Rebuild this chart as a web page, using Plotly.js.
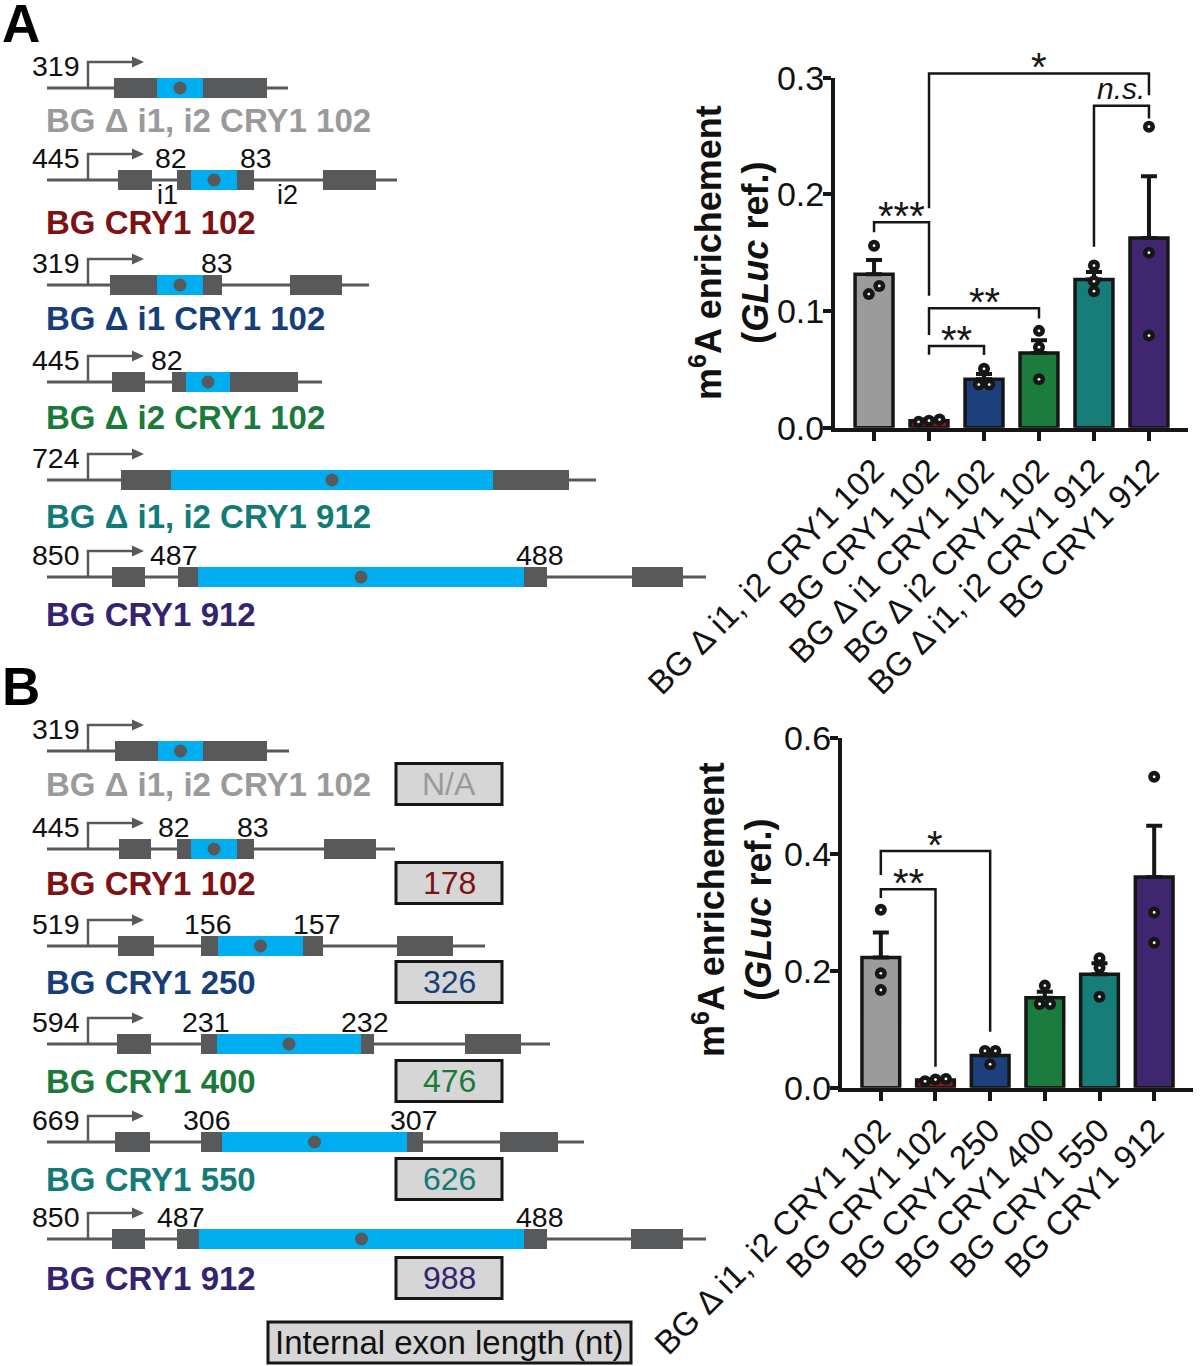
<!DOCTYPE html>
<html>
<head>
<meta charset="utf-8">
<script src="https://cdn.plot.ly/plotly-3.0.1.min.js"></script>
<style>html,body{margin:0;padding:0;background:#fff}#chart{width:1200px;height:1366px}</style>
</head>
<body>
<div id="chart"></div>
<script>
// ================= DATA =================
// Panel A bar chart
const categoriesA = ['BG Δ i1, i2 CRY1 102', 'BG CRY1 102', 'BG Δ i1 CRY1 102', 'BG Δ i2 CRY1 102', 'BG Δ i1, i2 CRY1 912', 'BG CRY1 912'];
const meanA = [0.1315, 0.006, 0.0415, 0.064, 0.127, 0.1625];
const semA = [0.0122, 0.001, 0.0045, 0.011, 0.0065, 0.053];
const pointsA = [
  [0.156, 0.1215, 0.1145],
  [0.007, 0.005, 0.006],
  [0.0505, 0.037, 0.037],
  [0.083, 0.069, 0.0415],
  [0.139, 0.1255, 0.117],
  [0.258, 0.150, 0.079]
];
const yTickValsA = [0, 0.1, 0.2, 0.3];
const yTickTextA = ['0.0', '0.1', '0.2', '0.3'];
// significance brackets: [from, to, top, leftBottom, rightBottom, label]
const bracketsA = [
  [0, 1, 0.176, 0.1675, 0.113, '***'],
  [1, 5, 0.3037, 0.188, 0.285, '*'],
  [4, 5, 0.276, 0.155, 0.265, '<i>n.s.</i>'],
  [1, 3, 0.1023, 0.0795, 0.0937, '**'],
  [1, 2, 0.070, 0.0625, 0.0623, '**']
];

// Panel B bar chart
const categoriesB = ['BG Δ i1, i2 CRY1 102', 'BG CRY1 102', 'BG CRY1 250', 'BG CRY1 400', 'BG CRY1 550', 'BG CRY1 912'];
const meanB = [0.223, 0.013, 0.0553, 0.154, 0.1945, 0.361];
const semB = [0.043, 0.0017, 0.0077, 0.0105, 0.019, 0.088];
const pointsB = [
  [0.305, 0.196, 0.1675],
  [0.015, 0.011, 0.014],
  [0.063, 0.063, 0.040],
  [0.175, 0.1435, 0.1435],
  [0.222, 0.2055, 0.156],
  [0.533, 0.3005, 0.2485]
];
const yTickValsB = [0, 0.2, 0.4, 0.6];
const yTickTextB = ['0.0', '0.2', '0.4', '0.6'];
const bracketsB = [
  [0, 2, 0.4057, 0.3646, 0.096, '*'],
  [0, 1, 0.340, 0.325, 0.036, '**']
];

const yTitle = '<b>m<sup>6</sup>A enrichement<br>(<i>GLuc</i> ref.)</b>';

// Schematic constructs (schematic units): promoter number, backbone end, exons [start, end, kind], junction marks, intron marks
const schemNamesA = ['BG Δ i1, i2 CRY1 102', 'BG CRY1 102', 'BG Δ i1 CRY1 102', 'BG Δ i2 CRY1 102', 'BG Δ i1, i2 CRY1 912', 'BG CRY1 912'];
const schemA = [
  {num: '319', end: 288, exons: [[114, 157, 'g'], [157, 203, 'b'], [203, 267, 'g']], marks: [], introns: []},
  {num: '445', end: 397, exons: [[118, 152, 'g'], [177, 191, 'g'], [191, 237, 'b'], [237, 254, 'g'], [323, 376, 'g']], marks: [[171, '82'], [256, '83']], introns: [[167, 'i1'], [287, 'i2']]},
  {num: '319', end: 369, exons: [[110, 157, 'g'], [157, 203, 'b'], [203, 222, 'g'], [290, 342, 'g']], marks: [[217, '83']], introns: []},
  {num: '445', end: 322, exons: [[112, 145, 'g'], [172, 186, 'g'], [186, 230, 'b'], [230, 298, 'g']], marks: [[167, '82']], introns: []},
  {num: '724', end: 596, exons: [[121, 171, 'g'], [171, 493, 'b'], [493, 569, 'g']], marks: [], introns: []},
  {num: '850', end: 706, exons: [[112, 145, 'g'], [178, 198, 'g'], [198, 524, 'b'], [524, 547, 'g'], [632, 683, 'g']], marks: [[174, '487'], [540, '488']], introns: []}
];
const schemNamesB = ['BG Δ i1, i2 CRY1 102', 'BG CRY1 102', 'BG CRY1 250', 'BG CRY1 400', 'BG CRY1 550', 'BG CRY1 912'];
const schemB = [
  {num: '319', end: 289, exons: [[115, 158, 'g'], [158, 203, 'b'], [203, 267, 'g']], marks: [], introns: []},
  {num: '445', end: 395, exons: [[119, 151, 'g'], [177, 191, 'g'], [191, 237, 'b'], [237, 254, 'g'], [324, 376, 'g']], marks: [[174, '82'], [253, '83']], introns: []},
  {num: '519', end: 485, exons: [[118, 154, 'g'], [201, 218, 'g'], [218, 303, 'b'], [303, 323, 'g'], [397, 453, 'g']], marks: [[208, '156'], [317, '157']], introns: []},
  {num: '594', end: 550, exons: [[117, 151, 'g'], [201, 217, 'g'], [217, 361, 'b'], [361, 374, 'g'], [465, 521, 'g']], marks: [[206, '231'], [365, '232']], introns: []},
  {num: '669', end: 584, exons: [[115, 150, 'g'], [201, 222, 'g'], [222, 407, 'b'], [407, 423, 'g'], [500, 558, 'g']], marks: [[207, '306'], [414, '307']], introns: []},
  {num: '850', end: 706, exons: [[112, 145, 'g'], [177, 199, 'g'], [199, 524, 'b'], [524, 547, 'g'], [631, 683, 'g']], marks: [[181, '487'], [540, '488']], introns: []}
];
const exonLengthLabels = ['N/A', '178', '326', '476', '626', '988'];
const exonLengthTitle = 'Internal exon length (nt)';

// ================= STYLE / LAYOUT CONSTANTS =================
const FONT = 'Liberation Sans, Arial, Helvetica, sans-serif';
const INK = '#161616';
const barColors = ['#9b9b9b', '#8c1717', '#1c407c', '#1b7c3d', '#167d79', '#3f276f'];
const labelColors = ['#9a9a9a', '#7c1214', '#163f78', '#1a7a3a', '#137b77', '#35236f'];
const SCH_GRAY = '#58595b';
const SCH_BLUE = '#00aeef';
const W = 1200, H = 1366;

// schematic row placement (figure px, drawn on hidden axes x4/y4)
const rowYA = [88, 180, 285, 382, 480, 577];
const labelYA = [120, 222, 318, 417, 516, 614];
const rowYB = [751, 849, 946, 1044, 1142, 1239];
const labelYB = [784, 883, 982, 1081, 1179, 1278];

// bar chart placement
const A_x0 = 835, A_x1 = 1188, A_y0 = 427.7, A_yTop = 77.7;      // y=0 and y=0.3
const B_x0 = 842, B_x1 = 1193, B_y0 = 1087.7, B_yTop = 737.7;    // y=0 and y=0.6
const A_pxPerY = (A_y0 - A_yTop) / 0.3;
const B_pxPerY = (B_y0 - B_yTop) / 0.6;
const A_range3Top = 0.345;

// ================= HELPERS =================
function beeswarm(vals, pxPerY, pxPerX, thr, sep) {
  const idx = vals.map((v, i) => i).sort((a, b) => vals[a] - vals[b]);
  const groups = [];
  let cur = [idx[0]];
  for (let k = 1; k < idx.length; k++) {
    if ((vals[idx[k]] - vals[cur[cur.length - 1]]) * pxPerY < thr) cur.push(idx[k]);
    else { groups.push(cur); cur = [idx[k]]; }
  }
  groups.push(cur);
  const off = new Array(vals.length).fill(0);
  groups.forEach(g => g.forEach((j, n) => { off[j] = (n - (g.length - 1) / 2) * sep / pxPerX; }));
  return off;
}

const traces = [];
const shapes = [];
const annotations = [];

function barPanel(cats, means, sems, pts, xa, ya, bya, brackets, pxPerY) {
  const xs = cats.map((c, i) => i);
  traces.push({
    type: 'bar', x: xs, y: means, xaxis: xa, yaxis: ya, width: 0.69,
    marker: {color: barColors, line: {color: INK, width: 3.5}},
    error_y: {type: 'data', array: sems, arrayminus: sems.map(() => 0), symmetric: false,
              color: INK, thickness: 4, width: 8},
    hoverinfo: 'skip', showlegend: false
  });
  const px = [], py = [];
  pts.forEach((g, i) => {
    const off = beeswarm(g, pxPerY, 55, 9, 10.5);
    g.forEach((v, j) => { px.push(i + off[j]); py.push(v); });
  });
  traces.push({type: 'scatter', mode: 'markers', x: px, y: py, xaxis: xa, yaxis: ya, cliponaxis: false,
    marker: {color: INK, size: 12, line: {width: 0}}, hoverinfo: 'skip', showlegend: false});
  traces.push({type: 'scatter', mode: 'markers', x: px, y: py, xaxis: xa, yaxis: ya, cliponaxis: false,
    marker: {color: '#ffffff', size: 2.8, line: {width: 0}}, hoverinfo: 'skip', showlegend: false});
  brackets.forEach(b => {
    traces.push({type: 'scatter', mode: 'lines', x: [b[0], b[0], b[1], b[1]], y: [b[3], b[2], b[2], b[4]],
      xaxis: xa, yaxis: bya, line: {color: INK, width: 2.5}, hoverinfo: 'skip', showlegend: false});
    const isStar = b[5].indexOf('*') >= 0;
    annotations.push({xref: xa, yref: bya, x: (b[0] + b[1]) / 2, y: b[2], text: b[5], showarrow: false,
      xanchor: 'center', yanchor: 'bottom', yshift: isStar ? -18 : -1,
      font: {family: FONT, size: isStar ? 40 : 30, color: INK}});
  });
}

barPanel(categoriesA, meanA, semA, pointsA, 'x', 'y', 'y3', bracketsA, A_pxPerY);
barPanel(categoriesB, meanB, semB, pointsB, 'x2', 'y2', 'y2', bracketsB, B_pxPerY);

// dummy trace for the schematic axes
traces.push({type: 'scatter', mode: 'markers', x: [0], y: [0], xaxis: 'x4', yaxis: 'y4',
  marker: {opacity: 0}, hoverinfo: 'skip', showlegend: false});

function schematic(rows, names, rowY, labelY) {
  rows.forEach((r, i) => {
    const y = rowY[i];
    const S = {xref: 'x4', yref: 'y4', layer: 'above'};
    shapes.push(Object.assign({type: 'line', x0: 47, x1: r.end, y0: y, y1: y, line: {color: SCH_GRAY, width: 3}}, S));
    shapes.push(Object.assign({type: 'path', path: `M 88,${y} L 88,${y - 26} L 134,${y - 26}`, line: {color: SCH_GRAY, width: 2.5}}, S));
    shapes.push(Object.assign({type: 'path', path: `M 132,${y - 31.5} L 144,${y - 26} L 132,${y - 20.5} Z`, fillcolor: SCH_GRAY, line: {width: 0}}, S));
    r.exons.forEach(e => {
      shapes.push(Object.assign({type: 'rect', x0: e[0], x1: e[1], y0: y - 10, y1: y + 10,
        fillcolor: e[2] === 'b' ? SCH_BLUE : SCH_GRAY, line: {width: 0}}, S));
    });
    const be = r.exons.find(e => e[2] === 'b');
    const cx = (be[0] + be[1]) / 2;
    shapes.push(Object.assign({type: 'circle', x0: cx - 6.5, x1: cx + 6.5, y0: y - 6.5, y1: y + 6.5,
      fillcolor: SCH_GRAY, line: {width: 0}}, S));
    annotations.push({xref: 'x4', yref: 'y4', x: 82, y: y - 22, text: r.num, showarrow: false,
      xanchor: 'right', yanchor: 'middle', font: {family: FONT, size: 28.5, color: '#111'}});
    r.marks.forEach(m => annotations.push({xref: 'x4', yref: 'y4', x: m[0], y: y - 22, text: m[1], showarrow: false,
      xanchor: 'center', yanchor: 'middle', font: {family: FONT, size: 28.5, color: '#111'}}));
    r.introns.forEach(m => annotations.push({xref: 'x4', yref: 'y4', x: m[0], y: y + 15, text: m[1], showarrow: false,
      xanchor: 'center', yanchor: 'middle', font: {family: FONT, size: 27, color: '#111'}}));
    annotations.push({xref: 'x4', yref: 'y4', x: 44, y: labelY[i], text: '<b>' + names[i] + '</b>', showarrow: false,
      xanchor: 'left', yanchor: 'middle', font: {family: FONT, size: 33, color: labelColors[i]}});
  });
}
schematic(schemA, schemNamesA, rowYA, labelYA);
schematic(schemB, schemNamesB, rowYB, labelYB);

// exon length boxes (panel B)
exonLengthLabels.forEach((t, i) => {
  const y = labelYB[i];
  shapes.push({type: 'rect', xref: 'x4', yref: 'y4', layer: 'above', x0: 396, x1: 502, y0: y - 20.5, y1: y + 20.5,
    fillcolor: '#d6d6d6', line: {color: INK, width: 3}});
  annotations.push({xref: 'x4', yref: 'y4', x: 449, y: y, text: t, showarrow: false, xanchor: 'center', yanchor: 'middle',
    font: {family: FONT, size: 32, color: labelColors[i]}});
});
shapes.push({type: 'rect', xref: 'x4', yref: 'y4', layer: 'above', x0: 268, x1: 631, y0: 1322, y1: 1363,
  fillcolor: '#d6d6d6', line: {color: INK, width: 3}});
annotations.push({xref: 'x4', yref: 'y4', x: 449.5, y: 1342.5, text: exonLengthTitle, showarrow: false,
  xanchor: 'center', yanchor: 'middle', font: {family: FONT, size: 33, color: '#111'}});

// panel letters
annotations.push({xref: 'paper', yref: 'paper', x: 0, y: 1 - 23 / H, text: '<b>A</b>', showarrow: false,
  xanchor: 'left', yanchor: 'middle', font: {family: FONT, size: 53, color: '#000'}});
annotations.push({xref: 'paper', yref: 'paper', x: 0, y: 1 - 687 / H, text: '<b>B</b>', showarrow: false,
  xanchor: 'left', yanchor: 'middle', font: {family: FONT, size: 53, color: '#000'}});

// y axis titles
annotations.push({xref: 'paper', yref: 'paper', x: 729 / W, y: 1 - 253 / H, text: yTitle, textangle: -90, showarrow: false,
  xanchor: 'center', yanchor: 'middle', font: {family: FONT, size: 36, color: '#111'}});
annotations.push({xref: 'paper', yref: 'paper', x: 732 / W, y: 1 - 910 / H, text: yTitle, textangle: -90, showarrow: false,
  xanchor: 'center', yanchor: 'middle', font: {family: FONT, size: 36, color: '#111'}});

// ================= AXES =================
function xAxis(x0, x1, cats, anchor) {
  const lo = -0.71, hi = cats.length - 1 + 0.71;
  return {domain: [x0 / W, x1 / W], range: [lo, hi], anchor: anchor,
    tickvals: cats.map((c, i) => i), ticktext: cats, tickangle: -45,
    tickfont: {family: FONT, size: 33, color: '#111'}, ticklabelstandoff: -3,
    showline: true, linecolor: INK, linewidth: 4, ticks: 'outside', ticklen: 9, tickwidth: 4, tickcolor: INK,
    showgrid: false, zeroline: false, fixedrange: true};
}
function yAxis(y0, yTop, rng, vals, txt, anchor) {
  return {domain: [1 - y0 / H, 1 - yTop / H], range: rng, anchor: anchor,
    tickvals: vals, ticktext: txt, tickfont: {family: FONT, size: 34, color: '#111'}, ticklabelstandoff: -8,
    showline: true, linecolor: INK, linewidth: 4, ticks: 'outside', ticklen: 8, tickwidth: 4, tickcolor: INK,
    showgrid: false, zeroline: false, fixedrange: true};
}

const layout = {
  width: W, height: H, margin: {l: 0, r: 0, t: 0, b: 0},
  paper_bgcolor: '#ffffff', plot_bgcolor: 'rgba(0,0,0,0)', showlegend: false,
  font: {family: FONT},
  xaxis: xAxis(A_x0, A_x1, categoriesA, 'y'),
  yaxis: yAxis(A_y0, A_yTop, [0, 0.3], yTickValsA, yTickTextA, 'x'),
  yaxis3: {domain: [1 - A_y0 / H, 1 - (A_y0 - A_range3Top * A_pxPerY) / H], range: [0, A_range3Top], anchor: 'x',
    visible: false, fixedrange: true},
  xaxis2: xAxis(B_x0, B_x1, categoriesB, 'y2'),
  yaxis2: yAxis(B_y0, B_yTop, [0, 0.6], yTickValsB, yTickTextB, 'x2'),
  xaxis4: {domain: [0, 1], range: [0, W], anchor: 'y4', visible: false, fixedrange: true},
  yaxis4: {domain: [0, 1], range: [H, 0], anchor: 'x4', visible: false, fixedrange: true},
  shapes: shapes,
  annotations: annotations
};

Plotly.newPlot('chart', traces, layout, {displayModeBar: false, staticPlot: true});
</script>
</body>
</html>
